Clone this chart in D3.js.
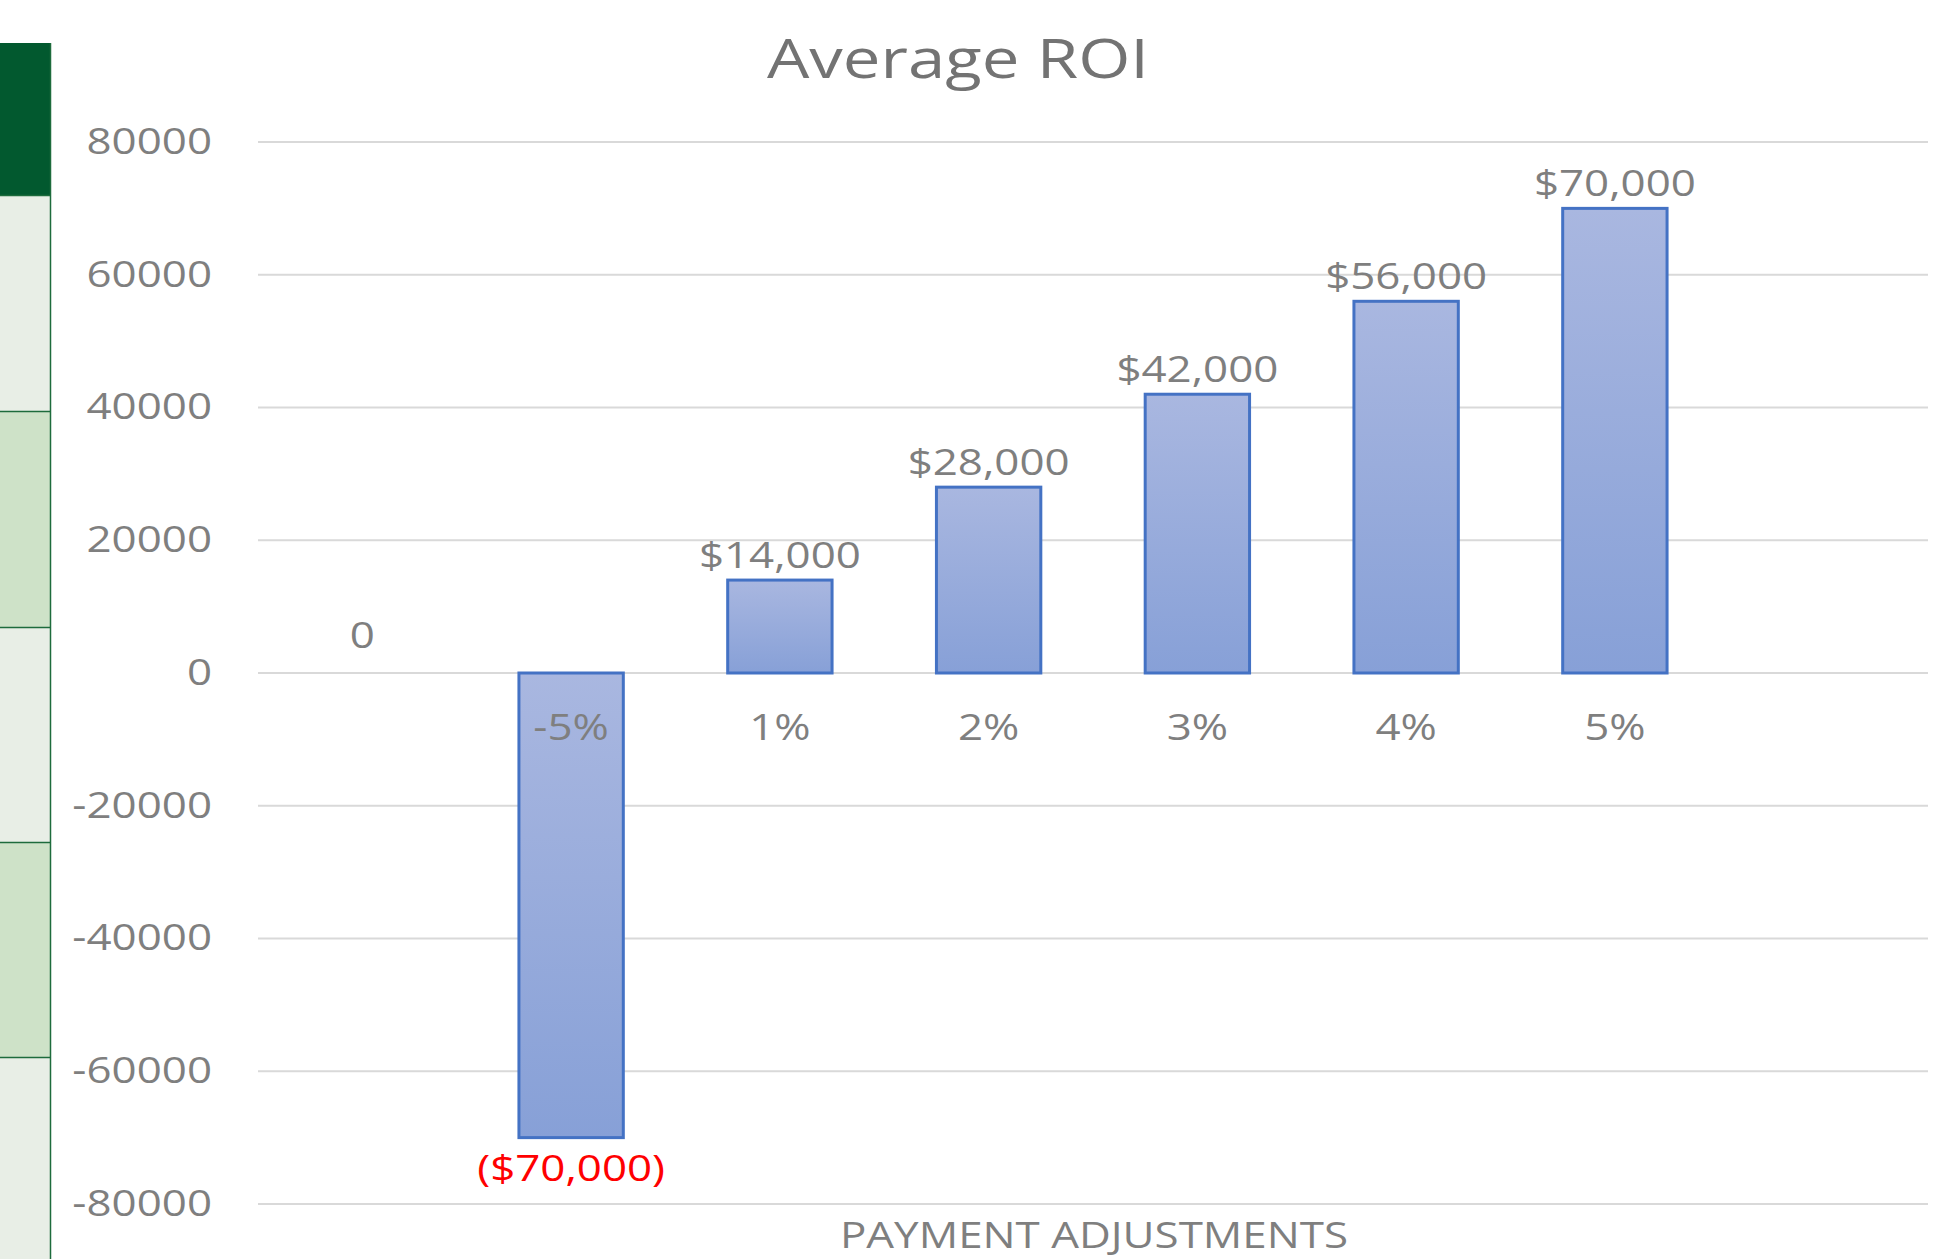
<!DOCTYPE html>
<html>
<head>
<meta charset="utf-8">
<script src="https://cdn.jsdelivr.net/npm/d3@7"></script>
<style>
  html, body { margin: 0; padding: 0; background: #ffffff; }
  svg { display: block; }
  text { font-family: "Open Sans", "Noto Sans", sans-serif; }
</style>
</head>
<body>
<script>
// ---- data ----
const categories = ["", "-5%", "1%", "2%", "3%", "4%", "5%", ""];
const roiValues = [0, -70000, 14000, 28000, 42000, 56000, 70000, null];
const yTicks = [-80000, -60000, -40000, -20000, 0, 20000, 40000, 60000, 80000];
const chartTitle = "Average ROI";
const xAxisTitle = "PAYMENT ADJUSTMENTS";
// spreadsheet strip on the left (row bands)
const stripRows = ["header", "plain", "shaded", "plain", "shaded", "plain"];

// ---- layout ----
const W = 1937, H = 1259;
const plot = { left: 258, right: 1928, top: 142, bottom: 1204 };
const SX = 1.22; // horizontal stretch of text seen in reference
const grey = "#7f7f7f";

const svg = d3.select("body").append("svg").attr("width", W).attr("height", H);

// left strip
const stripTop = 43, stripW = 50;
const stripBounds = [43, 195, 411, 627, 842, 1057, 1259];
const stripColors = { header: "#02592f", plain: "#e8eee6", shaded: "#cee2c8" };
const strip = svg.append("g");
stripRows.forEach((r, i) => {
  strip.append("rect")
    .attr("x", 0).attr("y", stripBounds[i])
    .attr("width", stripW).attr("height", stripBounds[i + 1] - stripBounds[i])
    .attr("fill", stripColors[r]);
  if (i > 0) {
    strip.append("line")
      .attr("x1", 0).attr("x2", stripW)
      .attr("y1", stripBounds[i] + 0.5).attr("y2", stripBounds[i] + 0.5)
      .attr("stroke", "#1d6b3c").attr("stroke-width", 1.5);
  }
});
strip.append("line")
  .attr("x1", stripW + 0.5).attr("x2", stripW + 0.5)
  .attr("y1", stripTop).attr("y2", H)
  .attr("stroke", "#1d6b3c").attr("stroke-width", 1.5);

// scales
const x = d3.scaleBand()
  .domain(d3.range(categories.length))
  .range([plot.left, plot.right])
  .paddingInner(0.5).paddingOuter(0.25);
const y = d3.scaleLinear().domain([-80000, 80000]).range([plot.bottom, plot.top]);

// gridlines
svg.append("g").selectAll("line").data(yTicks).join("line")
  .attr("x1", plot.left).attr("x2", plot.right)
  .attr("y1", d => y(d)).attr("y2", d => y(d))
  .attr("stroke", "#d9d9d9").attr("stroke-width", 2);

// y axis labels
const yAxis = d3.axisLeft(y).tickValues(yTicks).tickSize(0).tickPadding(0).tickFormat(d => String(d));
const yg = svg.append("g").attr("transform", `translate(212,0)`).call(yAxis);
yg.select(".domain").remove();
yg.selectAll(".tick").attr("transform", null);
yg.selectAll("text")
  .attr("x", null).attr("dy", null).attr("y", null)
  .attr("fill", grey).attr("font-size", 36)
  .attr("text-anchor", "end")
  .attr("dominant-baseline", "central")
  .attr("transform", d => `translate(0,${y(d) - 2}) scale(${SX},1)`);

// gradient
const defs = svg.append("defs");
const grad = defs.append("linearGradient").attr("id", "barGrad")
  .attr("x1", 0).attr("y1", 0).attr("x2", 0).attr("y2", 1);
grad.append("stop").attr("offset", "0%").attr("stop-color", "#a9b7e0");
grad.append("stop").attr("offset", "100%").attr("stop-color", "#87a0d7");

// bars
const data = categories.map((c, i) => ({ i, c, v: roiValues[i] }));
const barData = data.filter(d => d.v !== null && d.v !== 0);
svg.append("g").selectAll("rect").data(barData).join("rect")
  .attr("x", d => x(d.i))
  .attr("width", x.bandwidth())
  .attr("y", d => y(Math.max(0, d.v)))
  .attr("height", d => Math.abs(y(d.v) - y(0)))
  .attr("fill", "url(#barGrad)")
  .attr("stroke", "#4472c4").attr("stroke-width", 3);

// x axis (category labels)
const xAxis = d3.axisBottom(x).tickSize(0).tickFormat(i => categories[i]);
const xg = svg.append("g").attr("transform", `translate(0,${y(0)})`).call(xAxis);
xg.select(".domain").remove();
xg.selectAll("text")
  .attr("y", null).attr("dy", null)
  .attr("fill", grey).attr("font-size", 36)
  .attr("text-anchor", "middle")
  .attr("transform", `translate(0,67) scale(${SX},1)`);

// data labels
const money = d3.format(",");
const fmt = v => v === 0 ? "0" : v < 0 ? `($${money(-v)})` : `$${money(v)}`;
svg.append("g").selectAll("text").data(data.filter(d => d.v !== null)).join("text")
  .attr("text-anchor", "middle")
  .attr("font-size", 36)
  .attr("fill", d => d.v < 0 ? "#ff0000" : grey)
  .attr("transform", d => {
    const cx = x(d.i) + x.bandwidth() / 2;
    const cy = d.v < 0 ? y(d.v) + 43 : d.v === 0 ? y(0) - 25 : y(d.v) - 12;
    return `translate(${cx},${cy}) scale(${SX},1)`;
  })
  .text(d => fmt(d.v));

// title
svg.append("text")
  .attr("text-anchor", "middle")
  .attr("font-size", 55)
  .attr("fill", "#737373")
  .attr("transform", `translate(958,78) scale(${SX},1)`)
  .text(chartTitle);

// x axis title
svg.append("text")
  .attr("text-anchor", "middle")
  .attr("font-size", 36)
  .attr("fill", grey)
  .attr("transform", `translate(1094,1248) scale(${SX},1)`)
  .text(xAxisTitle);
</script>
</body>
</html>
